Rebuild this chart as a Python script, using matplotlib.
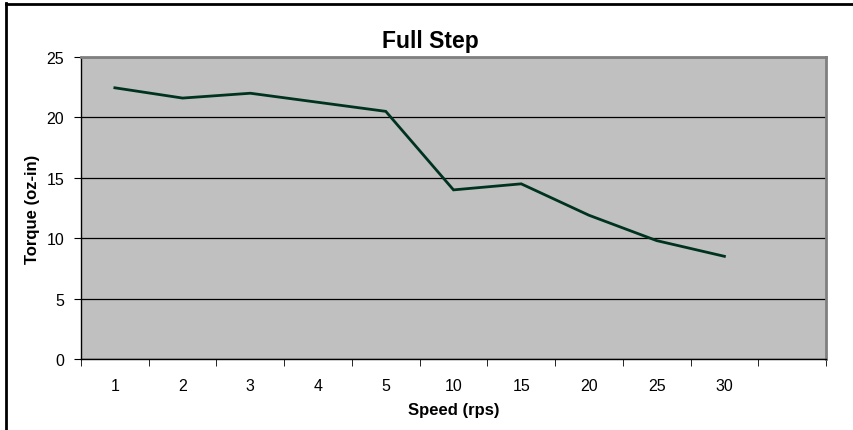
import numpy as np
import matplotlib.pyplot as plt
from matplotlib.lines import Line2D

speeds = ['1', '2', '3', '4', '5', '10', '15', '20', '25', '30']
torque = [22.45, 21.6, 22.0, 21.25, 20.5, 14.0, 14.5, 11.9, 9.8, 8.5]
nslots = 11  # excel leaves one empty category at the end

plt.rcParams['font.family'] = ['Liberation Sans', 'DejaVu Sans']

fig = plt.figure(figsize=(8.54, 4.31), dpi=100)
ax = fig.add_axes([81/854, 1-360/431, 745/854, 302/431])
ax.set_facecolor('#C0C0C0')

x = np.arange(len(speeds))
ax.plot(x, torque, color='#00331f', lw=2, solid_joinstyle='miter', zorder=3)

ax.set_xlim(-0.5, nslots - 0.5)
ax.set_ylim(0, 25)
ax.set_yticks(np.arange(0, 26, 5))
ax.yaxis.grid(True, color='black', lw=0.9)
ax.set_axisbelow(True)

ax.set_xticks(x)
ax.set_xticklabels(speeds, fontsize=11.5)
ax.set_xticks(np.arange(-0.5, nslots, 1), minor=True)
ax.tick_params(axis='x', which='major', length=0, pad=14)
ax.tick_params(axis='x', which='minor', length=5, direction='out', color='black')
ax.tick_params(axis='y', length=5, direction='out', labelsize=11.5, pad=7)

for s in ['left', 'bottom']:
    ax.spines[s].set_color('black')
    ax.spines[s].set_linewidth(1)
for s in ['top', 'right']:
    ax.spines[s].set_color('#808080')
    ax.spines[s].set_linewidth(2)

fig.text(430/854, 1-48/431, 'Full Step', fontsize=16.5, fontweight='bold',
         ha='center', va='baseline')
ax.set_xlabel('Speed (rps)', fontsize=12, fontweight='bold', labelpad=6)
ax.set_ylabel('Torque (oz-in)', fontsize=12, fontweight='bold', labelpad=5)

# chart border (only left and top survive the crop)
fig.add_artist(Line2D([6.5/854, 6.5/854], [0, 1-4/431], color='black', lw=2, transform=fig.transFigure))
fig.add_artist(Line2D([6/854, 1], [1-4.5/431, 1-4.5/431], color='black', lw=2, transform=fig.transFigure))

fig.savefig('out.png', dpi=100)
